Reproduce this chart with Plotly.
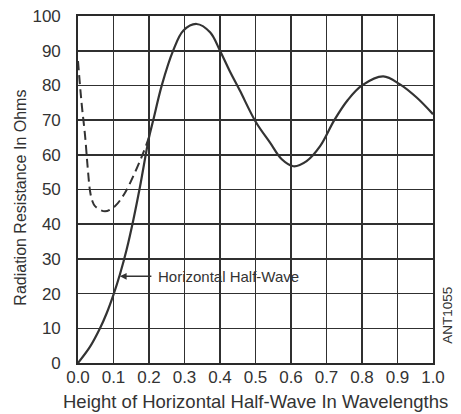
import plotly.graph_objects as go

# Solid curve: horizontal half-wave dipole radiation resistance vs height
solid_x = [0, 0.034, 0.062, 0.081, 0.1, 0.118, 0.137, 0.156, 0.175, 0.2, 0.212, 0.236,
           0.268, 0.297, 0.334, 0.372, 0.4, 0.428, 0.456, 0.5, 0.541, 0.574, 0.607,
           0.644, 0.682, 0.722, 0.76, 0.8, 0.86, 0.907, 0.954, 1.0]
solid_y = [0, 4.7, 10, 14.4, 19.7, 25.5, 32.7, 41.3, 51, 65, 70, 80,
           90, 95.8, 97.7, 95.3, 90, 84, 78.5, 69.6, 63.5, 58.7, 56.7,
           58.2, 62.5, 70, 75.8, 80, 82.6, 80.3, 76.5, 71.7]

# Dashed curve (low heights)
dash_x = [0, 0.01, 0.02, 0.027, 0.034, 0.04, 0.048, 0.076, 0.104, 0.132, 0.16, 0.184, 0.2]
dash_y = [87, 75, 65.4, 56.7, 49.5, 46.8, 45.2, 43.7, 45.2, 49, 54.8, 60.6, 65]

x_ticks = [0.0, 0.1, 0.2, 0.3, 0.4, 0.5, 0.6, 0.7, 0.8, 0.9, 1.0]
x_tick_labels = ["0.0", "0.1", "0.2", "0.3", "0.4", "0.5", "0.6", "0.7", "0.8", "0.9", "1.0"]
y_ticks = [0, 10, 20, 30, 40, 50, 60, 70, 80, 90, 100]

x_title = "Height of Horizontal Half-Wave In Wavelengths"
y_title = "Radiation Resistance In Ohms"
label_text = "Horizontal Half-Wave"
label_arrow_xy = (0.118, 25)
label_text_x = 0.225
code_text = "ANT1055"

ink = "#333333"
font_family = "Liberation Sans, Arial, sans-serif"

fig = go.Figure()
fig.add_trace(go.Scatter(x=dash_x, y=dash_y, mode="lines",
                         line=dict(color=ink, width=2, dash="9px,5px", shape="spline"),
                         hoverinfo="skip", showlegend=False))
fig.add_trace(go.Scatter(x=solid_x, y=solid_y, mode="lines",
                         line=dict(color=ink, width=2.2, shape="spline"),
                         hoverinfo="skip", showlegend=False))

fig.add_annotation(x=label_arrow_xy[0], y=label_arrow_xy[1], ax=label_text_x, ay=label_arrow_xy[1],
                   axref="x", ayref="y", xref="x", yref="y",
                   text="", showarrow=True, arrowhead=2, arrowsize=0.9, arrowwidth=1.5,
                   arrowcolor=ink, standoff=0, startstandoff=5)
fig.add_annotation(x=label_text_x, y=label_arrow_xy[1], xref="x", yref="y",
                   text=label_text, showarrow=False, xanchor="left", yanchor="middle",
                   xshift=-2, font=dict(size=15, color=ink, family=font_family))
fig.add_annotation(x=1.0, y=13.6, xref="paper", yref="y", text=code_text, showarrow=False,
                   textangle=-90, xanchor="center", yanchor="middle", xshift=15,
                   font=dict(size=13.5, color=ink, family=font_family))

# Axis titles placed as annotations in paper coordinates
fig.add_annotation(x=0.501, y=-0.112, xref="paper", yref="paper", text=x_title,
                   showarrow=False, xanchor="center", yanchor="middle",
                   font=dict(size=18.5, color=ink, family=font_family))
fig.add_annotation(x=-0.161, y=0.476, xref="paper", yref="paper", text=y_title,
                   showarrow=False, xanchor="center", yanchor="middle", textangle=-90,
                   font=dict(size=16, color=ink, family=font_family))

axis_common = dict(showgrid=True, gridcolor="#303030", gridwidth=1.6,
                   showline=True, linecolor="#2a2a2a", linewidth=1.8, mirror=True,
                   zeroline=False, ticks="", automargin=False,
                   tickfont=dict(size=17, color=ink, family=font_family))

fig.update_xaxes(range=[0, 1.0], tickvals=x_ticks, ticktext=x_tick_labels,
                 ticklabelstandoff=-2, **axis_common)
fig.update_yaxes(range=[0, 100], tickvals=y_ticks,
                 ticklabelstandoff=12, **axis_common)

fig.update_layout(width=461, height=414, margin=dict(l=78, r=28, t=16, b=51, autoexpand=False),
                  plot_bgcolor="white", paper_bgcolor="white",
                  font=dict(family=font_family, color=ink))

fig.write_html("out.html", config={"displayModeBar": False, "staticPlot": True},
               post_script="document.body.style.margin='0px';")
